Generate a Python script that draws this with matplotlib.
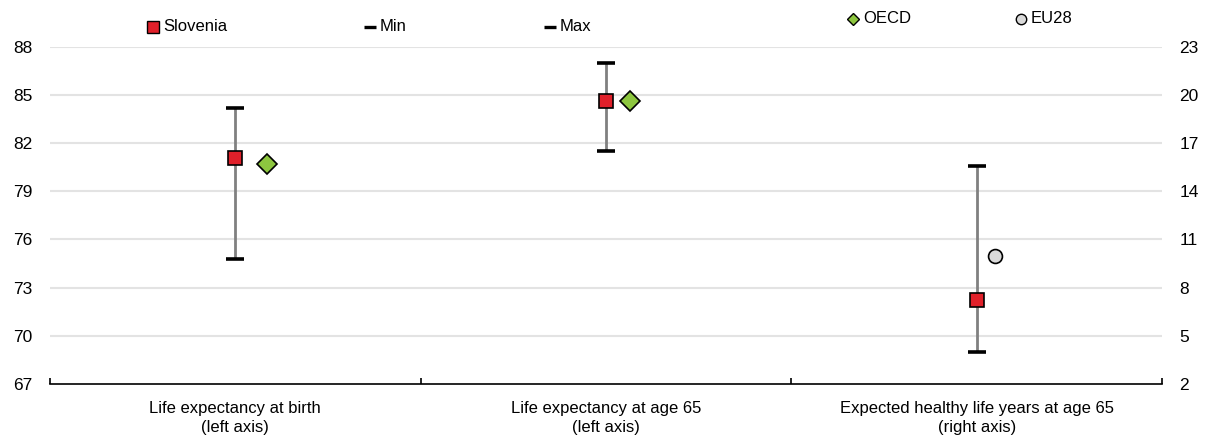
import numpy as np
import matplotlib
matplotlib.use("Agg")
import matplotlib.pyplot as plt

plt.rcParams['font.family'] = ['Liberation Sans', 'DejaVu Sans']
plt.rcParams['font.size'] = 12

categories = ["Life expectancy at birth\n(left axis)",
              "Life expectancy at age 65\n(left axis)",
              "Expected healthy life years at age 65\n(right axis)"]
# first two categories use the left axis, the last one the right axis
slovenia = [81.1, 84.6, 7.2]
min_vals = [74.8, 81.5, 4.0]
max_vals = [84.2, 87.0, 15.6]
oecd = [80.7, 84.6, np.nan]
eu28 = [np.nan, np.nan, 10.0]
left_ticks = [67, 70, 73, 76, 79, 82, 85, 88]
right_ticks = [2, 5, 8, 11, 14, 17, 20, 23]

RED = "#E0202A"
GREEN = "#8DC63F"
LIGHT = "#D9D9D9"
GRID = "#E3E3E3"

fig = plt.figure(figsize=(12.08, 4.42), dpi=100)
ax = fig.add_axes([50/1208, 1-384/442, (1162-50)/1208, (384-46.7)/442])
ax2 = ax.twinx()

ax.set_xlim(-0.5, 2.5)
ax.set_ylim(left_ticks[0], left_ticks[-1])
ax2.set_ylim(right_ticks[0], right_ticks[-1])
ax.set_yticks(left_ticks)
ax2.set_yticks(right_ticks)

for s in ["top", "left", "right"]:
    ax.spines[s].set_visible(False)
    ax2.spines[s].set_visible(False)
ax2.spines["bottom"].set_visible(False)
ax.spines["bottom"].set_linewidth(1.2)
ax.spines["bottom"].set_color("black")

ax.tick_params(axis='y', length=0, pad=12.5, labelsize=12.5)
ax2.tick_params(axis='y', length=0, pad=12.5, labelsize=12.5)
ax.set_axisbelow(True)
for t in left_ticks[1:]:
    ax.axhline(t, color=GRID, lw=1.5, zorder=0)

ax.set_xticks(range(len(categories)))
ax.set_xticklabels(categories, fontsize=12, linespacing=1.4)
ax.tick_params(axis='x', which='major', length=0, pad=12)
ax.set_xticks([-0.5, 0.5, 1.5, 2.5], minor=True)
ax.tick_params(axis='x', which='minor', direction='in', length=4, width=1.2, color='black')

shift = [0.085, 0.066, 0.05]
cap_kw = dict(marker='_', ms=13, mew=2.6, color='black', ls='none', zorder=4)
sq_kw = dict(marker='s', ms=10, mfc=RED, mec='black', mew=1.2, ls='none', zorder=5)

for i in range(len(categories)):
    target = ax if i < 2 else ax2
    target.vlines(i, min_vals[i], max_vals[i], color='#808080', lw=2, zorder=3)
    target.plot([i], [min_vals[i]], **cap_kw)
    target.plot([i], [max_vals[i]], **cap_kw)
    target.plot([i], [slovenia[i]], **sq_kw)
    if not np.isnan(oecd[i]):
        target.plot([i + shift[i]], [oecd[i]], marker='D', ms=10.5, mfc=GREEN,
                    mec='black', mew=1.2, ls='none', zorder=5)
    if not np.isnan(eu28[i]):
        target.plot([i + shift[i]], [eu28[i]], marker='o', ms=10, mfc=LIGHT,
                    mec='black', mew=1.2, ls='none', zorder=5)

# legend entries drawn along the top
def legend_item(x_px, y_px, label, **mk):
    fx, fy = x_px / 1208, 1 - y_px / 442
    fig.add_artist(plt.Line2D([fx], [fy], transform=fig.transFigure, ls='none', **mk))
    fig.text(fx + 10/1208, fy, label, va='center', ha='left', fontsize=12)

legend_item(153, 26.5, "Slovenia", marker='s', ms=8, mfc=RED, mec='black', mew=1)
legend_item(370, 26.5, "Min", marker='_', ms=8, mew=2.4, color='black')
legend_item(550, 26.5, "Max", marker='_', ms=8, mew=2.4, color='black')
legend_item(853, 18.5, "OECD", marker='D', ms=6.5, mfc=GREEN, mec='black', mew=1)
legend_item(1021, 18.5, "EU28", marker='o', ms=7.5, mfc=LIGHT, mec='black', mew=1)

fig.savefig("out.png", dpi=100)
